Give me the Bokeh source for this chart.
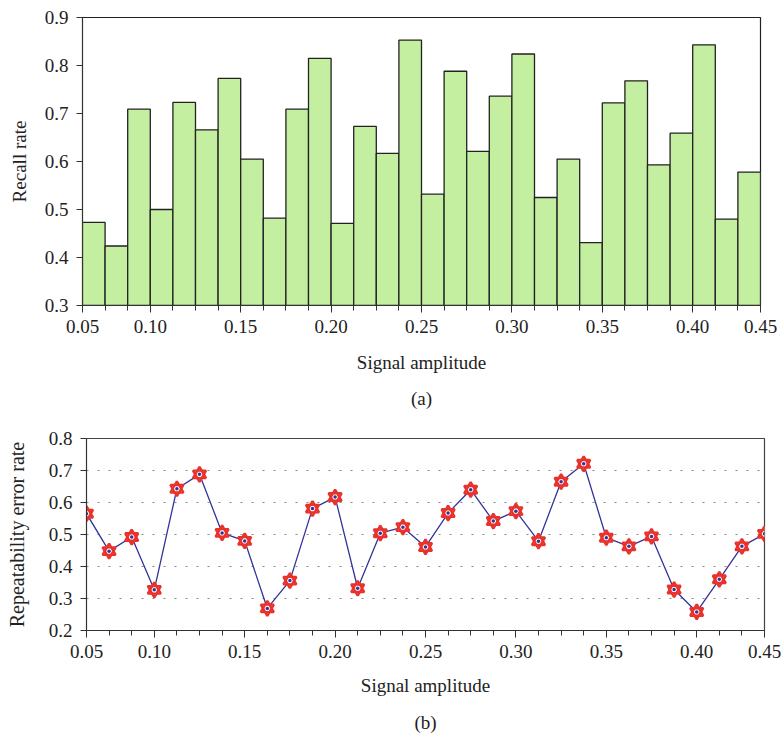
from bokeh.plotting import figure
from bokeh.layouts import column, row
from bokeh.models import FixedTicker, PrintfTickFormatter, Title, Range1d
from bokeh.embed import file_html
from bokeh.resources import INLINE

# ---- data ----
recall_rate = [0.473, 0.424, 0.709, 0.500, 0.723, 0.666, 0.773, 0.605, 0.482, 0.709,
               0.815, 0.471, 0.673, 0.617, 0.853, 0.532, 0.788, 0.621, 0.736, 0.824,
               0.525, 0.605, 0.431, 0.722, 0.768, 0.593, 0.659, 0.843, 0.480, 0.578]
error_rate = [0.565, 0.448, 0.492, 0.327, 0.643, 0.688, 0.505, 0.480, 0.269, 0.356,
              0.581, 0.617, 0.332, 0.504, 0.523, 0.461, 0.567, 0.640, 0.542, 0.573,
              0.479, 0.665, 0.721, 0.490, 0.463, 0.494, 0.328, 0.258, 0.360, 0.463, 0.502]
tick_labels = ["0.05", "0.10", "0.15", "0.20", "0.25", "0.30", "0.35", "0.40", "0.45"]
tick_positions = [0, 3, 7, 11, 15, 19, 23, 27, 30]
recall_ticks = [0.3, 0.4, 0.5, 0.6, 0.7, 0.8, 0.9]
error_ticks = [0.2, 0.3, 0.4, 0.5, 0.6, 0.7, 0.8]

FONT = "Liberation Serif"

def style_axes(p, yticks):
    xa = p.xaxis[0]
    xa.ticker = FixedTicker(ticks=tick_positions, minor_ticks=list(range(31)))
    xa.major_label_overrides = {t: l for t, l in zip(tick_positions, tick_labels)}
    xa.major_tick_out = 7
    xa.major_tick_in = 0
    xa.minor_tick_out = 5
    xa.minor_tick_in = 0
    ya = p.yaxis[0]
    ya.ticker = FixedTicker(ticks=yticks, minor_ticks=[])
    ya.formatter = PrintfTickFormatter(format="%.1f")
    ya.major_tick_out = 6
    ya.major_tick_in = 0
    ya.minor_tick_out = 0
    for ax in (xa, ya):
        ax.axis_line_color = "#333333"
        ax.major_tick_line_color = "#333333"
        ax.minor_tick_line_color = "#333333"
        ax.major_label_text_font = FONT
        ax.major_label_text_font_size = "19px"
        ax.major_label_text_color = "#222222"
        ax.axis_label_text_font = FONT
        ax.axis_label_text_font_size = "19px"
        ax.axis_label_text_font_style = "normal"
        ax.axis_label_text_color = "#222222"
    xa.major_label_standoff = 7
    ya.major_label_standoff = 8

# ---- top chart ----
p1 = figure(frame_width=678, frame_height=288, output_backend="svg", toolbar_location=None,
            x_range=Range1d(0, 30), y_range=Range1d(0.3, 0.9),
            min_border_left=82, min_border_top=17, min_border_right=21, min_border_bottom=115)
idx = list(range(len(recall_rate)))
p1.vbar(x=[i + 0.5 for i in idx], top=recall_rate, bottom=0.3, width=1.0,
        fill_color="#c4eea0", line_color="#222222", line_width=1.3)
p1.grid.visible = False
p1.outline_line_color = "#222222"
p1.outline_line_width = 1.2
p1.xaxis.axis_label = "Signal amplitude"
p1.yaxis.axis_label = "Recall rate"
style_axes(p1, recall_ticks)
p1.xaxis.axis_label_standoff = 16
p1.yaxis.axis_label_standoff = 12
p1.add_layout(Title(text="(a)", align="center", text_font=FONT, text_font_size="19px",
                    text_font_style="normal", text_color="#222222", standoff=20), "below")

# ---- bottom chart ----
p2 = figure(frame_width=678, frame_height=192, output_backend="svg", toolbar_location=None,
            x_range=Range1d(0, 30), y_range=Range1d(0.2, 0.8),
            min_border_left=86, min_border_top=18, min_border_right=17, min_border_bottom=105)
xi = list(range(len(error_rate)))
p2.xgrid.visible = False
p2.ygrid.ticker = FixedTicker(ticks=[0.3, 0.4, 0.5, 0.6, 0.7])
p2.ygrid.grid_line_color = "#888888"
p2.ygrid.grid_line_dash = "2 9"
p2.ygrid.grid_line_width = 1.2
p2.line(xi, error_rate, line_color="#33339a", line_width=1.3)
p2.scatter(xi, error_rate, marker="triangle", size=13, fill_color="white",
           line_color="#e8322b", line_width=2.4)
p2.scatter(xi, error_rate, marker="inverted_triangle", size=13, fill_color=None,
           line_color="#e8322b", line_width=2.4)
p2.scatter(xi, error_rate, marker="circle", size=3.5, fill_color="#33339a", line_color=None)
p2.outline_line_color = "#444444"
p2.outline_line_width = 1.2
p2.xaxis.axis_label = "Signal amplitude"
p2.yaxis.axis_label = "Repeatability error rate"
style_axes(p2, error_ticks)
p2.yaxis.axis_label_text_font_size = "20px"
p2.xaxis.axis_label_standoff = 14
p2.yaxis.axis_label_standoff = 18
p2.add_layout(Title(text="(b)", align="center", text_font=FONT, text_font_size="19px",
                    text_font_style="normal", text_color="#222222", standoff=23), "below")

layout = column(row(p1), row(p2), spacing=0)
open("out.html", "w").write(file_html(layout, INLINE))
